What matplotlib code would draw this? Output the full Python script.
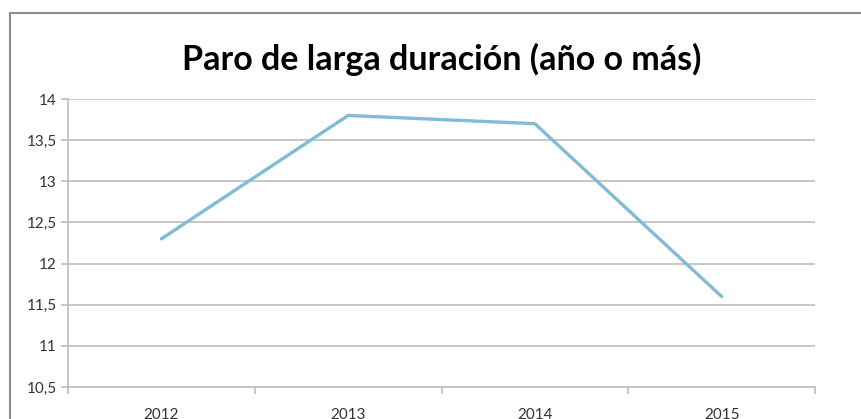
import matplotlib.pyplot as plt
from matplotlib.patches import Rectangle
from matplotlib.ticker import FuncFormatter, FixedLocator

# data
years = ["2012", "2013", "2014", "2015"]
paro = [12.3, 13.8, 13.7, 11.6]
titulo = "Paro de larga duración (año o más)"

plt.rcParams['font.family'] = ['Lato', 'DejaVu Sans']

fig = plt.figure(figsize=(8.61, 4.19), dpi=100)

# outer chart frame (cut off at right/bottom like the screenshot)
fig.patches.append(Rectangle((10 / 861, -0.1), 1.2, 1 - 13.5 / 419 + 0.1,
                             transform=fig.transFigure, fill=False,
                             edgecolor="#8c8c8c", linewidth=1.5))

ax = fig.add_axes([68 / 861, 1 - 387 / 419, (815 - 68) / 861, (387 - 99) / 419])

x = range(len(years))
ax.plot(x, paro, color="#80bdd4", linewidth=2.4, solid_capstyle="round")

ax.set_xlim(-0.5, len(years) - 0.5)
ax.set_ylim(10.5, 14)
ax.set_yticks([10.5, 11, 11.5, 12, 12.5, 13, 13.5, 14])
ax.yaxis.set_major_formatter(FuncFormatter(lambda v, p: f"{v:g}".replace(".", ",")))
ax.grid(axis="y", color="#bdbdbd", linewidth=1.2)
ax.set_axisbelow(True)

ax.set_xticks(list(x))
ax.set_xticklabels(years)
ax.xaxis.set_minor_locator(FixedLocator([i - 0.5 for i in range(len(years) + 1)]))
ax.tick_params(axis="x", which="major", length=0, pad=15, labelsize=11, labelcolor="#333333")
ax.tick_params(axis="x", which="minor", length=5, width=1.2, color="#bdbdbd")
ax.tick_params(axis="y", length=5, width=1.2, color="#bdbdbd", labelsize=11, labelcolor="#333333", pad=3)

for s in ["top", "right"]:
    ax.spines[s].set_visible(False)
for s in ["left", "bottom"]:
    ax.spines[s].set_color("#bdbdbd")
    ax.spines[s].set_linewidth(1.2)

fig.text(442 / 861, 1 - 59 / 419, titulo, ha="center", va="center",
         fontsize=24.5, fontweight="bold", color="black")

fig.savefig("out.png", dpi=100)
